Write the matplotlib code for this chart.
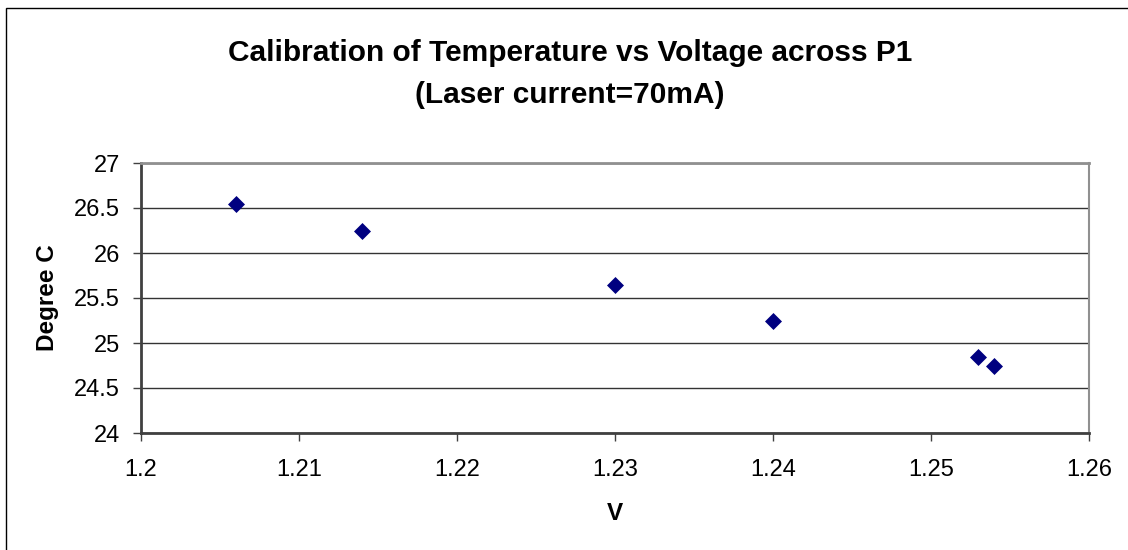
import matplotlib.pyplot as plt
from matplotlib.patches import Rectangle

# measured voltage across P1 (V) and temperature (deg C)
voltage = [1.206, 1.214, 1.230, 1.240, 1.253, 1.254]
temperature = [26.55, 26.25, 25.65, 25.25, 24.85, 24.75]

x_ticks = [1.2, 1.21, 1.22, 1.23, 1.24, 1.25, 1.26]
y_ticks = [24, 24.5, 25, 25.5, 26, 26.5, 27]

title_lines = ['Calibration of Temperature vs Voltage across P1',
               '(Laser current=70mA)']

plt.rcParams['font.family'] = ['Liberation Sans', 'DejaVu Sans']

fig = plt.figure(figsize=(11.28, 5.5), dpi=100)
fig.patch.set_facecolor('white')

# outer chart border (only left/top visible in reference)
fig.patches.append(Rectangle((6 / 1128, -0.05), 1.2, 1 - 8 / 550 + 0.05,
                             transform=fig.transFigure, fill=False,
                             edgecolor='black', linewidth=1))

ax = fig.add_axes([141 / 1128, 117 / 550, 948 / 1128, 270 / 550])
ax.scatter(voltage, temperature, marker='D', s=75, color='#000080',
           zorder=3, linewidths=0)

ax.set_xlim(1.2, 1.26)
ax.set_ylim(24, 27)
ax.set_xticks(x_ticks)
ax.set_xticklabels(['1.2', '1.21', '1.22', '1.23', '1.24', '1.25', '1.26'])
ax.set_yticks(y_ticks)
ax.set_yticklabels(['24', '24.5', '25', '25.5', '26', '26.5', '27'])
ax.tick_params(direction='out', length=6, width=1, labelsize=17,
               color='#404040')
ax.tick_params(axis='x', pad=12.5)
ax.tick_params(axis='y', pad=9)
ax.yaxis.grid(True, color='#333333', linewidth=1)
ax.set_axisbelow(True)

for side in ['left', 'bottom']:
    ax.spines[side].set_color('#404040')
    ax.spines[side].set_linewidth(2)
ax.spines['right'].set_color('#909090')
ax.spines['right'].set_linewidth(1.5)
ax.spines['top'].set_color('#909090')
ax.spines['top'].set_linewidth(2)

ax.set_xlabel('V', fontsize=17.5, fontweight='bold', labelpad=15)
ax.set_ylabel('Degree C', fontsize=17.5, fontweight='bold', labelpad=11)

fig.text(570 / 1128, 1 - 53 / 550, title_lines[0], ha='center',
         va='center', fontsize=21.5, fontweight='bold')
fig.text(570 / 1128, 1 - 95 / 550, title_lines[1], ha='center',
         va='center', fontsize=21.5, fontweight='bold')

fig.savefig('out.png', dpi=100)
